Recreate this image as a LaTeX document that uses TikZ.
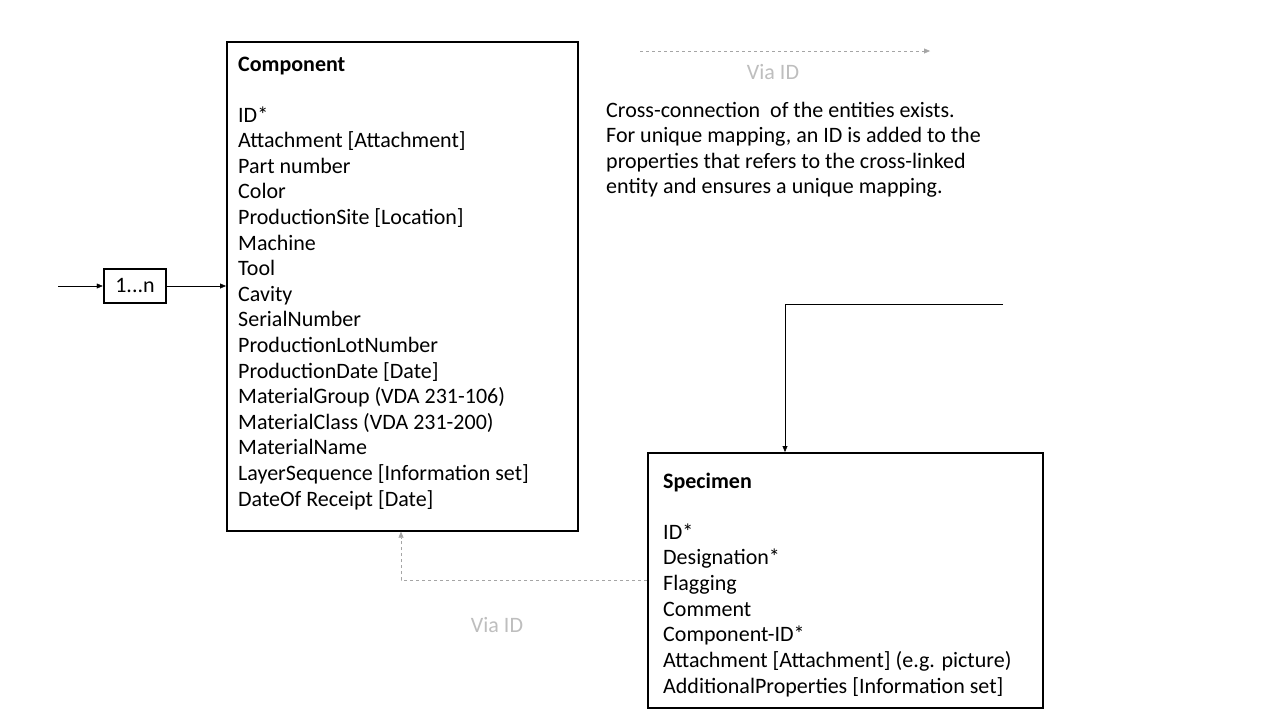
\documentclass[tikz,border=0pt]{standalone}
\usepackage{fontspec}
\setmainfont{Carlito}
\usetikzlibrary{arrows.meta}
\definecolor{linkgray}{RGB}{165,165,165}
\definecolor{labelgray}{RGB}{190,190,190}
\begin{document}
\begin{tikzpicture}[x=1pt,y=-1pt]
\tikzstyle{every node}=[font=\fontsize{22}{26}\selectfont, inner sep=0pt]
\tikzstyle{entity}=[draw, line width=1.7pt, rectangle, anchor=north west]
\tikzstyle{prop}=[anchor=base west]
\tikzstyle{link}=[-{Triangle[length=6pt,width=5pt]}, thin, linkgray, dashed]

% white background with the proportions of the page
\useasboundingbox [fill=white] (0,0) rectangle (1280,720);

% entity boxes
\node[entity, minimum width=351pt, minimum height=489pt] (comp) at (226,41) {};
\node[entity, minimum width=395pt, minimum height=255pt] (spec) at (647,452) {};
\node[draw, line width=2.5pt, minimum width=62pt, minimum height=34pt] (mult) at (135,286) {1...n};

% properties of component
\node[prop, font=\fontsize{22}{26}\selectfont\bfseries] (ctitle) at (238,71) {Component};
\foreach \t [count=\i] in {ID*, Attachment [Attachment], Part number, Color,
  ProductionSite [Location], Machine, Tool, Cavity, SerialNumber,
  ProductionLotNumber, ProductionDate [Date], MaterialGroup (VDA 231-106),
  MaterialClass (VDA 231-200), MaterialName, LayerSequence [Information set],
  DateOf Receipt [Date]}
	\node[prop] (c\i) at (238,{122+25.6*(\i-1)}) {\t};

% properties of specimen
\node[prop, font=\fontsize{22}{26}\selectfont\bfseries] (stitle) at (663,488) {Specimen};
\foreach \t [count=\i] in {ID*, Designation*, Flagging, Comment, Component-ID*,
  Attachment [Attachment] (e.g. picture), AdditionalProperties [Information set]}
	\node[prop] (s\i) at (663,{539+25.7*(\i-1)}) {\t};

% legend
\coordinate (la) at (640,51);
\coordinate (lb) at (930,51);
\draw[link] (la) -- (lb);
\node[labelgray] (lvia) at (773,72) {Via ID};
\foreach \t [count=\i] in {Cross-connection\ \ of the entities exists.,
  {For unique mapping, an ID is added to the},
  properties that refers to the cross-linked,
  entity and ensures a unique mapping.}
	\node[prop] (n\i) at (606,{117+25.6*(\i-1)}) {\t};

% connectors
\coordinate (in) at (58,286);
\coordinate (feed) at (1003,304);
\draw[-{Triangle[length=6pt,width=5pt]}] (in) -- (mult.west);
\draw[-{Triangle[length=6pt,width=5pt]}] (mult.east) -- (comp.west |- mult.east);
\draw[-{Triangle[length=6pt,width=5pt]}] (feed) -| (spec.north west -| 785,0);
\draw[link] (spec.west |- 0,580) -| (comp.south west -| 401,0);
\node[labelgray] (svia) at (497,625) {Via ID};

\end{tikzpicture}
\end{document}
